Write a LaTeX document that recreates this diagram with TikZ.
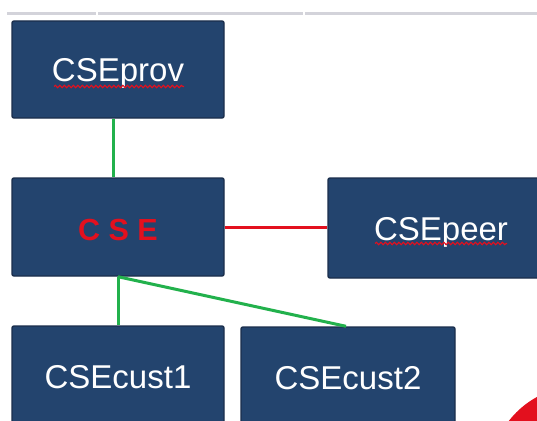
\documentclass[tikz,border=0pt]{standalone}
\usepackage{fontspec}
\setmainfont{Liberation Sans}
\usetikzlibrary{decorations.pathmorphing}
\definecolor{boxfill}{HTML}{23446E}
\definecolor{boxline}{HTML}{1A2E4C}
\definecolor{lgreen}{HTML}{22B14C}
\definecolor{lred}{HTML}{E3101E}
\definecolor{bargray}{HTML}{D3D3DA}
\tikzset{
  cbox/.style={draw=boxline, fill=boxfill, line width=1.4pt, rounded corners=2pt,
    inner sep=0pt, text=white, font=\fontsize{33}{40}\selectfont,
    text height=24pt, text depth=0pt},
  gline/.style={draw=lgreen, line width=3pt},
  rline/.style={draw=lred, line width=3pt},
  spell/.style={draw=lred, line width=1.1pt, decorate,
    decoration={snake, amplitude=1.2pt, segment length=4.5pt}},
  bar/.style={fill=bargray}
}
\begin{document}
\begin{tikzpicture}[x=1pt,y=-1pt]
\useasboundingbox (0,0) rectangle (537,420);
\clip (0,0) rectangle (537,420);
\fill[white] (0,0) rectangle (537,420);
% top bar
\fill[bar] (7,12) rectangle (96,15.5);
\fill[bar] (98,12) rectangle (303,15.5);
\fill[bar] (305,12) rectangle (537,15.5);
% red disk corner
\fill[lred] (580,476) circle (90);
% boxes
\node[cbox, minimum width=212pt, minimum height=97pt] (prov) at (118,69.5) {CSEprov};
\node[cbox, minimum width=212pt, minimum height=98pt, text=lred,
  font=\fontsize{30.5}{36}\selectfont\bfseries, text height=27.6pt, text depth=0pt] (cse) at (118,227) {C S E};
\node[cbox, minimum width=226pt, minimum height=100pt] (peer) at (441,228) {CSEpeer};
\node[cbox, minimum width=212pt, minimum height=100pt] (cust1) at (118,376) {CSEcust1};
\node[cbox, minimum width=214pt, minimum height=100pt] (cust2) at (348,377) {CSEcust2};
% spell-check underlines
\draw[spell] ([shift={(-64,17)}]prov.center) -- ([shift={(66,17)}]prov.center);
\draw[spell] ([shift={(-66,15.5)}]peer.center) -- ([shift={(66,15.5)}]peer.center);
% connectors
\draw[gline] ([xshift=-5pt]prov.south) -- ([xshift=-5pt]cse.north);
\draw[rline] (cse.east) -- (cse.east -| peer.west);
\draw[gline] (cse.south) -- (cust1.north);
\draw[gline] (cse.south) -- ([xshift=-2pt]cust2.north);
\end{tikzpicture}
\end{document}
